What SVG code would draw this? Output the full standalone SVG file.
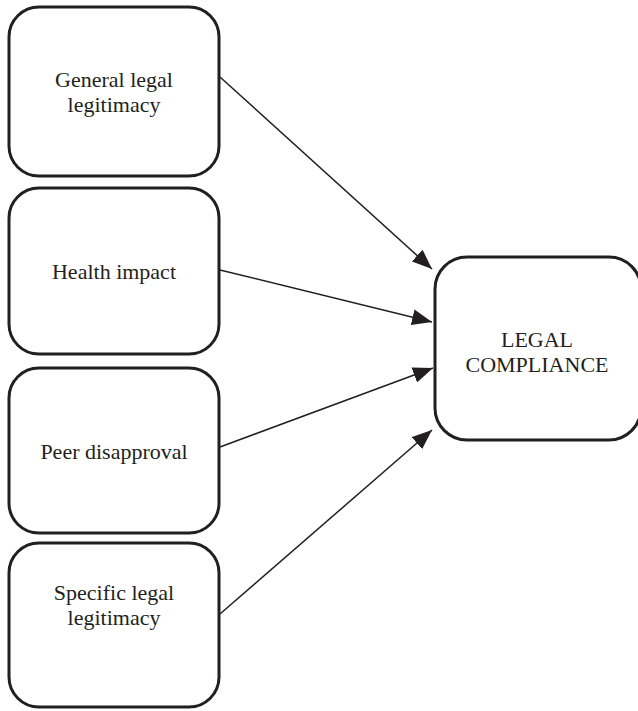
<svg xmlns="http://www.w3.org/2000/svg" width="638" height="711" viewBox="0 0 638 711">
  <style>
    .box { fill: #fff; stroke: #231f20; stroke-width: 3; }
    .lbl { font-family: "Liberation Serif", "Times New Roman", serif; font-size: 22px; fill: #231f20; text-anchor: middle; }
    .edge { stroke: #231f20; stroke-width: 1.5; fill: none; marker-end: url(#arrow); }
  </style>
  <defs>
    <marker id="arrow" viewBox="0 0 20 16" refX="20" refY="8" markerWidth="20" markerHeight="16" markerUnits="userSpaceOnUse" orient="auto">
      <path d="M0,0 L20,8 L0,16 Z" fill="#231f20"/>
    </marker>
  </defs>
  <rect width="638" height="711" fill="#fff"/>

  <g id="general-legal-legitimacy">
    <rect class="box" x="9" y="7" width="210" height="169" rx="30"/>
    <text class="lbl" x="114" y="87">General legal</text>
    <text class="lbl" x="114" y="112">legitimacy</text>
  </g>
  <g id="health-impact">
    <rect class="box" x="9" y="188" width="210" height="166" rx="30"/>
    <text class="lbl" x="114" y="279">Health impact</text>
  </g>
  <g id="peer-disapproval">
    <rect class="box" x="9" y="368" width="210" height="165" rx="30"/>
    <text class="lbl" x="114" y="459">Peer disapproval</text>
  </g>
  <g id="specific-legal-legitimacy">
    <rect class="box" x="9" y="543" width="210" height="164" rx="30"/>
    <text class="lbl" x="114" y="600">Specific legal</text>
    <text class="lbl" x="114" y="625">legitimacy</text>
  </g>
  <g id="legal-compliance">
    <rect class="box" x="435" y="257" width="206" height="183" rx="32"/>
    <text class="lbl" x="537" y="347">LEGAL</text>
    <text class="lbl" x="537" y="372">COMPLIANCE</text>
  </g>

  <g id="connectors">
    <line class="edge" x1="220" y1="77" x2="432" y2="269"/>
    <line class="edge" x1="220" y1="270" x2="432" y2="322"/>
    <line class="edge" x1="220" y1="447" x2="433" y2="368"/>
    <line class="edge" x1="220" y1="614" x2="432" y2="430"/>
  </g>
</svg>
